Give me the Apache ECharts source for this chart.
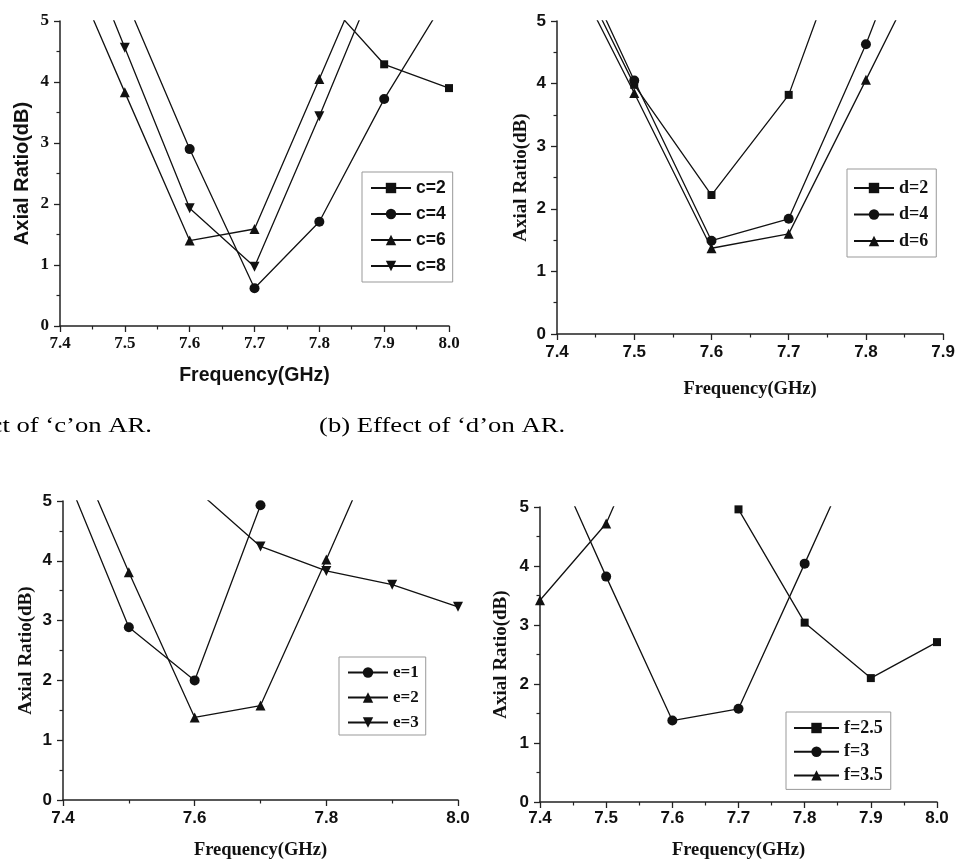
<!DOCTYPE html>
<html>
<head>
<meta charset="utf-8">
<script src="https://cdn.jsdelivr.net/npm/echarts@6/dist/echarts.min.js"></script>
<style>html,body{margin:0;padding:0;background:#fff}#c{width:958px;height:861px}</style>
</head>
<body>
<div id="c"></div>
<script>
// ---- Data (values above 5 dB are off-chart) ----
const freqA = [7.4, 7.5, 7.6, 7.7, 7.8, 7.9, 8.0];
const c2 = [null, null, null, null, 5.47, 4.29, 3.90];
const c4 = [null, 5.39, 2.90, 0.62, 1.71, 3.72, 5.45];
const c6 = [6.29, 3.83, 1.40, 1.59, 4.05, 6.52, null];
const c8 = [7.20, 4.56, 1.93, 0.97, 3.44, 6.00, null];

const freqB = [7.4, 7.5, 7.6, 7.7, 7.8, 7.9];
const d2 = [6.47, 3.98, 2.22, 3.82, 7.20, null];
const d4 = [6.70, 4.05, 1.49, 1.84, 4.63, 7.80];
const d6 = [6.28, 3.85, 1.37, 1.60, 4.06, 6.53];

const freqC = [7.4, 7.5, 7.6, 7.7, 7.8, 7.9, 8.0];
const e1 = [5.57, 2.89, 2.00, 4.93, null, null, null];
const e2 = [6.36, 3.81, 1.38, 1.58, 4.02, 6.53, null];
const e3 = [null, null, 5.21, 4.24, 3.83, 3.60, 3.23];

const freqD = [7.4, 7.5, 7.6, 7.7, 7.8, 7.9, 8.0];
const f25 = [null, null, null, 4.96, 3.04, 2.10, 2.71];
const f3 = [6.33, 3.82, 1.38, 1.58, 4.04, 6.52, null];
const f35 = [3.42, 4.72, 7.29, null, null, null, null];

const xTitle = 'Frequency(GHz)';
const yTitle = 'Axial Ratio(dB)';
const captionA = '(a) Effect of \u2018c\u2019on AR.';
const captionB = '(b) Effect of \u2018d\u2019on AR.';

// ---- helpers ----
const SANS = 'Liberation Sans', SERIF = 'Liberation Serif';
const INK = '#111';
function pairs(xs, ys) {
  return xs.map((x, i) => [x, ys[i]]).filter(p => p[1] !== null);
}
const invTri = 'path://M0,0 L10,0 L5,9 Z';
const SYM = { sq: 'rect', ci: 'circle', tr: 'triangle', it: invTri };
const SIZE = { sq: 8, ci: 10, tr: 10, it: 10 };
function ser(name, xs, ys, idx, sym) {
  return {
    type: 'line', name, xAxisIndex: idx, yAxisIndex: idx,
    data: pairs(xs, ys), symbol: SYM[sym], symbolSize: SIZE[sym],
    clip: true, animation: false,
    lineStyle: { color: INK, width: 1.3 },
    itemStyle: { color: INK, borderWidth: 0 },
    emphasis: { disabled: true }
  };
}
function xAx(idx, max, interval, labFont, labSize, labMargin, nameFont, nameSize, nameGap) {
  return {
    type: 'value', gridIndex: idx, min: 7.4, max, interval,
    name: xTitle, nameLocation: 'middle', nameGap,
    nameTextStyle: { fontFamily: nameFont, fontWeight: 'bold', fontSize: nameSize, color: INK },
    axisLine: { show: true, onZero: false, lineStyle: { color: '#222', width: 1.5 } },
    axisTick: { show: true, length: 6, lineStyle: { color: '#222', width: 1.3 } },
    minorTick: { show: true, splitNumber: 2, length: 3.5, lineStyle: { color: '#222', width: 1.2 } },
    splitLine: { show: false },
    axisLabel: { fontFamily: labFont, fontWeight: 'bold', fontSize: labSize, color: INK, margin: labMargin,
      formatter: v => v.toFixed(1) }
  };
}
function yAx(idx, labFont, labSize, nameFont, nameSize, nameGap) {
  return {
    type: 'value', gridIndex: idx, min: 0, max: 5, interval: 1,
    name: yTitle, nameLocation: 'middle', nameGap, nameRotate: 90,
    nameTextStyle: { fontFamily: nameFont, fontWeight: 'bold', fontSize: nameSize, color: INK },
    axisLine: { show: true, onZero: false, lineStyle: { color: '#222', width: 1.5 } },
    axisTick: { show: true, length: 6, lineStyle: { color: '#222', width: 1.3 } },
    minorTick: { show: true, splitNumber: 2, length: 3.5, lineStyle: { color: '#222', width: 1.2 } },
    splitLine: { show: false },
    axisLabel: { fontFamily: labFont, fontWeight: 'bold', fontSize: labSize, color: INK, margin: 11 }
  };
}
function leg(names, left, top, padding, itemWidth, fam, size, lh, gap) {
  return {
    data: names, orient: 'vertical', left, top, padding,
    itemWidth, itemHeight: 13, itemGap: gap,
    borderColor: '#999', borderWidth: 1, backgroundColor: '#fff',
    selectedMode: false,
    textStyle: { fontFamily: fam, fontWeight: 'bold', fontSize: size, lineHeight: lh, color: INK }
  };
}

const chart = echarts.init(document.getElementById('c'), null, { renderer: 'canvas' });
chart.setOption({
  backgroundColor: '#fff',
  animation: false,
  grid: [
    { left: 60, top: 21, width: 389, height: 305 },
    { left: 557, top: 21, width: 391, height: 313 },
    { left: 63, top: 501, width: 395, height: 299 },
    { left: 540, top: 507, width: 397, height: 295 }
  ],
  xAxis: [
    xAx(0, 8.0, 0.1, SERIF, 17, 9, SANS, 19.5, 40),
    xAx(1, 7.9, 0.1, SANS, 17, 10, SERIF, 18.5, 46),
    xAx(2, 8.0, 0.2, SANS, 17, 10, SERIF, 18.5, 41),
    xAx(3, 8.0, 0.1, SANS, 17, 8, SERIF, 18.5, 39)
  ],
  yAxis: [
    yAx(0, SERIF, 17, SANS, 20, 28),
    yAx(1, SANS, 17, SERIF, 19, 26),
    yAx(2, SANS, 17, SERIF, 19, 27),
    yAx(3, SANS, 17, SERIF, 19, 29)
  ],
  legend: [
    leg(['c=2', 'c=4', 'c=6', 'c=8'], 362, 172, [7, 7, 7, 8], 40, SANS, 17.5, 17, 8),
    leg(['d=2', 'd=4', 'd=6'], 847, 169, [10, 8, 7, 6], 40, SERIF, 18, 17, 8.5),
    leg(['e=1', 'e=2', 'e=3'], 339, 657, [7, 7, 4, 8], 40, SERIF, 17, 17, 8),
    leg(['f=2.5', 'f=3', 'f=3.5'], 786, 712, [7, 8, 5, 7], 45, SERIF, 18, 16, 5.7)
  ],
  series: [
    ser('c=2', freqA, c2, 0, 'sq'),
    ser('c=4', freqA, c4, 0, 'ci'),
    ser('c=6', freqA, c6, 0, 'tr'),
    ser('c=8', freqA, c8, 0, 'it'),
    ser('d=2', freqB, d2, 1, 'sq'),
    ser('d=4', freqB, d4, 1, 'ci'),
    ser('d=6', freqB, d6, 1, 'tr'),
    ser('e=1', freqC, e1, 2, 'ci'),
    ser('e=2', freqC, e2, 2, 'tr'),
    ser('e=3', freqC, e3, 2, 'it'),
    ser('f=2.5', freqD, f25, 3, 'sq'),
    ser('f=3', freqD, f3, 3, 'ci'),
    ser('f=3.5', freqD, f35, 3, 'tr')
  ],
  graphic: [
    { type: 'text', x: 152, y: 426, scaleX: 1.27, silent: true,
      style: { text: captionA, font: '21px "Liberation Serif"', fill: '#000', align: 'right', verticalAlign: 'middle' } },
    { type: 'text', x: 319, y: 426, scaleX: 1.27, silent: true,
      style: { text: captionB, font: '21px "Liberation Serif"', fill: '#000', align: 'left', verticalAlign: 'middle' } }
  ]
});
</script>
</body>
</html>
